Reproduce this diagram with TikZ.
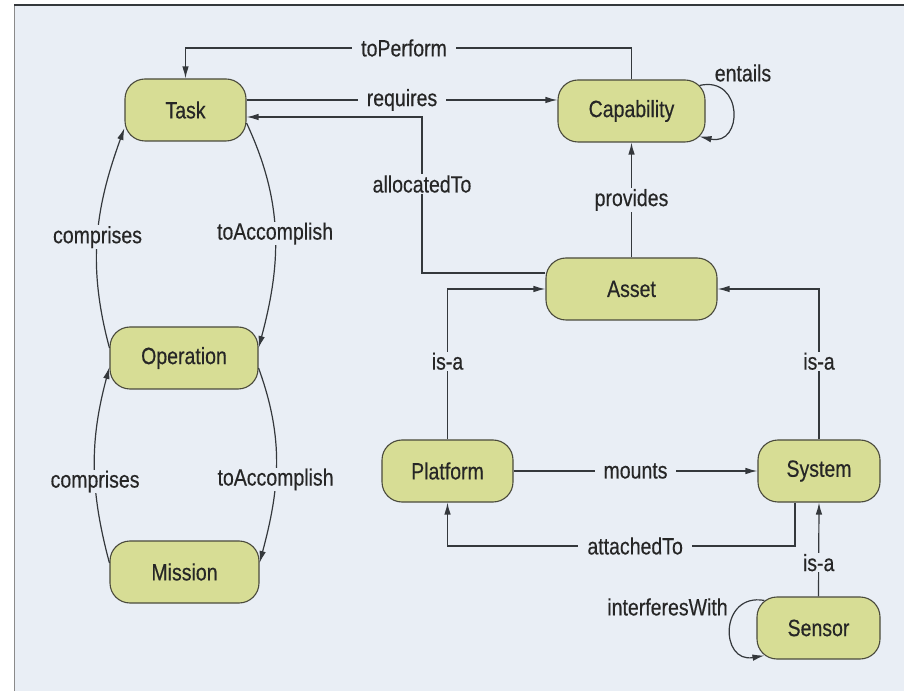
\documentclass[tikz,border=0pt]{standalone}
\usepackage{fontspec}
\setmainfont{Liberation Sans}[FakeStretch=0.83, FakeBold=0.4]
\usetikzlibrary{arrows.meta}

\definecolor{bg}{HTML}{E9EEF5}
\definecolor{nodefill}{HTML}{D7DD95}
\definecolor{nodeedge}{HTML}{4A4A3C}
\definecolor{linec}{HTML}{34383C}
\definecolor{txt}{HTML}{262626}
\definecolor{frameL}{HTML}{8A8A8A}

\begin{document}
\begin{tikzpicture}[x=1pt,y=1pt,
  labelfont/.style={font=\fontsize{23.5}{28}\selectfont, text=txt},
  state/.style={draw=nodeedge, line width=1.1pt, fill=nodefill,
    rounded corners=20pt, minimum height=62pt, inner sep=0pt, labelfont},
  link/.style={draw=linec, line width=1.2pt},
  arr/.style={link, -{Latex[length=12pt,width=6.5pt]}},
  lbl/.style={fill=bg, inner xsep=9pt, inner ysep=1pt, labelfont},
]
\useasboundingbox (0,0) rectangle (904,691);

% panel
\fill[bg] (14,0) rectangle (904,686);
\draw[frameL, line width=1pt] (14,0) -- (14,686);
\draw[linec, line width=1.2pt] (14,686) -- (904,686);

% classes
\node[state, minimum width=121pt] (task)  at (185.5,581) {Task};
\node[state, minimum width=147pt] (cap)   at (631.5,580) {Capability};
\node[state, minimum width=148pt] (op)    at (184,333)   {Operation};
\node[state, minimum width=149pt] (mis)   at (184.5,119) {Mission};
\node[state, minimum width=171pt] (asset) at (631.5,402) {Asset};
\node[state, minimum width=131pt] (plat)  at (447.5,220) {Platform};
\node[state, minimum width=122pt] (sys)   at (819,220)   {System};
\node[state, minimum width=123pt] (sen)   at (818.5,63)  {Sensor};

% routing points
\coordinate (toprow) at (0,643);
\coordinate (allocBot) at (422,418);
\coordinate (allocTop) at (422,574);
\coordinate (attR) at (795,145);
\coordinate (attL) at (447.5,145);

% toPerform
\draw[arr] (cap.north) -- (cap.north |- toprow)
  -- node[lbl,pos=0.51]{toPerform} (task.north |- toprow) -- (task.north);

% requires
\draw[arr] ([yshift=10pt]task.east) -- node[lbl]{requires} ([yshift=11pt]cap.west);

% allocatedTo
\draw[arr] ([yshift=16pt]asset.west) -- (allocBot)
  -- node[lbl,pos=0.57]{allocatedTo} (allocTop) -- ([yshift=-7pt]task.east);

% provides
\draw[arr] (asset.north) -- node[lbl]{provides} (cap.south);

% entails (self loop)
\draw[arr] ([shift={(-6pt,-6pt)}]cap.north east) .. controls +(44,10) and +(44,-10) .. ([shift={(-6pt,6pt)}]cap.south east);
\node[labelfont] (entailsLbl) at (743,618) {entails};

% task / operation / mission
\draw[arr] ([yshift=-13pt]task.east) to[out=-65,in=75] node[lbl]{toAccomplish} ([yshift=10pt]op.east);
\draw[arr] ([yshift=10pt]op.west) to[out=105,in=-110] node[lbl]{comprises} ([yshift=-18pt]task.west);
\draw[arr] ([yshift=-10pt]op.east) to[out=-70,in=75] node[lbl,pos=0.58]{toAccomplish} ([yshift=9pt]mis.east);
\draw[arr] ([yshift=9pt]mis.west) to[out=105,in=-105] node[lbl,pos=0.41]{comprises} ([yshift=-9pt]op.west);

% is-a to Asset
\draw[arr] (plat.north) |- node[lbl,pos=0.26]{is-a} (asset.west);
\draw[arr] (sys.north) |- node[lbl,pos=0.26]{is-a} (asset.east);

% mounts
\draw[arr] (plat.east) -- node[lbl]{mounts} (sys.west);

% attachedTo
\draw[arr] ([xshift=-24pt]sys.south) -- (attR)
  -- node[lbl,pos=0.46]{attachedTo} (attL) -- (plat.south);

% Sensor is-a System
\draw[arr] (sen.north) -- node[lbl,pos=0.36]{is-a} (sys.south);

% interferesWith (self loop)
\draw[arr] ([shift={(8pt,-4pt)}]sen.north west) .. controls +(-45,8) and +(-45,-8) .. ([shift={(8pt,4pt)}]sen.south west);
\node[labelfont] (ifLbl) at (667.5,84) {interferesWith};

\end{tikzpicture}
\end{document}
